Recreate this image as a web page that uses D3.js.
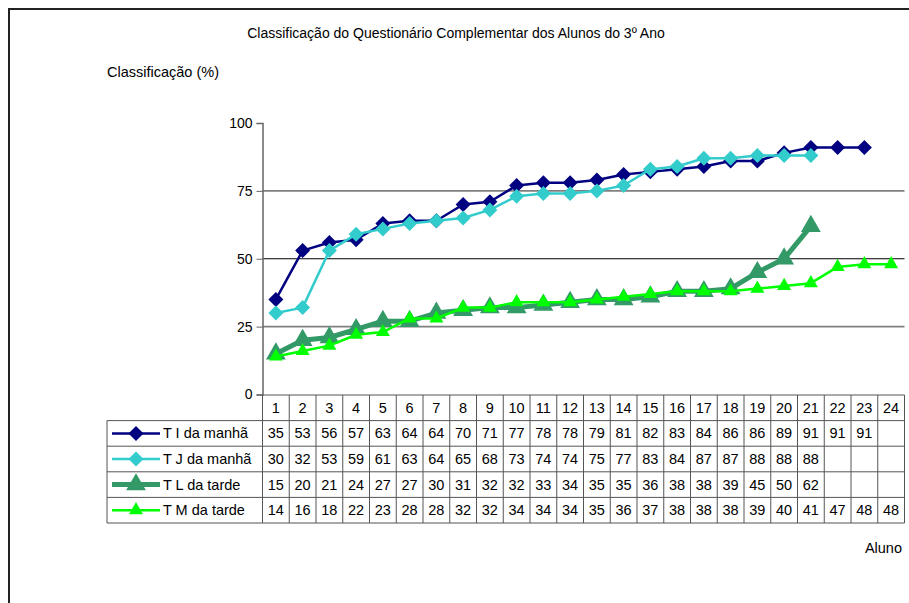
<!DOCTYPE html>
<html>
<head>
<meta charset="utf-8">
<script src="https://cdn.jsdelivr.net/npm/d3@7/dist/d3.min.js"></script>
<style>
  html, body { margin: 0; padding: 0; background: #fff; }
  svg { display: block; font-family: "Liberation Sans", Arial, sans-serif; }
</style>
</head>
<body>
<svg id="chart" width="909" height="603"></svg>
<script>
// Alunos (1..24) e classificações por turma
const alunos = d3.range(1, 25);
const tiManha = [35, 53, 56, 57, 63, 64, 64, 70, 71, 77, 78, 78, 79, 81, 82, 83, 84, 86, 86, 89, 91, 91, 91];
const tjManha = [30, 32, 53, 59, 61, 63, 64, 65, 68, 73, 74, 74, 75, 77, 83, 84, 87, 87, 88, 88, 88];
const tlTarde = [15, 20, 21, 24, 27, 27, 30, 31, 32, 32, 33, 34, 35, 35, 36, 38, 38, 39, 45, 50, 62];
const tmTarde = [14, 16, 18, 22, 23, 28, 28, 32, 32, 34, 34, 34, 35, 36, 37, 38, 38, 38, 39, 40, 41, 47, 48, 48];
const yTicks = [0, 25, 50, 75, 100];

const series = [
  { name: "T I da manhã", values: tiManha, color: "#000080", width: 2.5, marker: "diamond", size: 150 },
  { name: "T J da manhã", values: tjManha, color: "#33CCCC", width: 2.5, marker: "diamond", size: 150 },
  { name: "T L da tarde", values: tlTarde, color: "#339966", width: 5, marker: "triangle", size: 170 },
  { name: "T M da tarde", values: tmTarde, color: "#00FF00", width: 2.5, marker: "triangle", size: 85 }
];

const svg = d3.select("#chart");

// Moldura exterior
svg.append("rect")
  .attr("x", 9).attr("y", 9).attr("width", 1000).attr("height", 700)
  .attr("fill", "none").attr("stroke", "#222").attr("stroke-width", 2);

const plotLeft = 262.5, plotRight = 904.5;
const x = d3.scaleBand().domain(alunos).range([plotLeft, plotRight]);
const y = d3.scaleLinear().domain([0, 100]).range([394.5, 123]);

// Linhas de grelha
const gridStyle = { 25: ["#808080", 1.6], 50: ["#000", 1], 75: ["#808080", 1.6] };
svg.append("g").selectAll("line")
  .data(yTicks.filter(t => gridStyle[t]))
  .join("line")
  .attr("x1", plotLeft).attr("x2", plotRight)
  .attr("y1", d => y(d)).attr("y2", d => y(d))
  .attr("stroke", d => gridStyle[d][0])
  .attr("stroke-width", d => gridStyle[d][1]);

// Eixo Y
const yAxis = svg.append("g")
  .attr("transform", `translate(${plotLeft},0)`)
  .call(d3.axisLeft(y).tickValues(yTicks).tickSize(6).tickPadding(4));
yAxis.select(".domain").attr("stroke", "#666").attr("stroke-width", 1.5);
yAxis.selectAll(".tick line").attr("stroke", "#666");
yAxis.selectAll("text").attr("font-size", 14).attr("fill", "#000")
  .attr("font-family", "Liberation Sans, Arial, sans-serif");

// Títulos
svg.append("text").attr("x", 456).attr("y", 38).attr("text-anchor", "middle")
  .attr("font-size", 14).text("Classificação do Questionário Complementar dos Alunos do 3º Ano");
svg.append("text").attr("x", 107).attr("y", 77).attr("font-size", 14.5)
  .text("Classificação (%)");
svg.append("text").attr("x", 902).attr("y", 553).attr("text-anchor", "end")
  .attr("font-size", 14.5).text("Aluno");

// Séries
const cx = i => x(alunos[i]) + x.bandwidth() / 2;
const symbolOf = s => s.marker === "diamond" ? d3.symbolSquare : d3.symbolTriangle;

series.forEach(s => {
  const g = svg.append("g");
  g.append("path")
    .datum(s.values)
    .attr("fill", "none")
    .attr("stroke", s.color)
    .attr("stroke-width", s.width)
    .attr("stroke-linejoin", "round")
    .attr("d", d3.line().x((d, i) => cx(i)).y(d => y(d)));
  g.selectAll("path.m")
    .data(s.values)
    .join("path")
    .attr("class", "m")
    .attr("fill", s.color)
    .attr("transform", (d, i) => `translate(${cx(i)},${y(d)})` + (s.marker === "diamond" ? " rotate(45)" : ""))
    .attr("d", d3.symbol().type(symbolOf(s)).size(s.marker === "diamond" ? s.size * 0.75 : s.size));
});

// Tabela de dados
const headerTop = 395, rowH = 25.6, legendLeft = 107;
const gridColor = "#555";
const table = svg.append("g");
const nRows = series.length;
const tableBottom = headerTop + rowH * (nRows + 1);

// Cabeçalho
table.selectAll("text.h")
  .data(alunos)
  .join("text")
  .attr("class", "h")
  .attr("x", d => x(d) + x.bandwidth() / 2)
  .attr("y", headerTop + rowH / 2 + 5)
  .attr("text-anchor", "middle")
  .attr("font-size", 14.5)
  .text(d => d);

// Linhas horizontais
table.append("line").attr("x1", plotLeft).attr("x2", plotRight)
  .attr("y1", headerTop).attr("y2", headerTop).attr("stroke", gridColor);
d3.range(1, nRows + 2).forEach(r => {
  table.append("line").attr("x1", legendLeft).attr("x2", plotRight)
    .attr("y1", headerTop + r * rowH).attr("y2", headerTop + r * rowH)
    .attr("stroke", gridColor).attr("stroke-width", 1);
});
// Linhas verticais
alunos.forEach(a => {
  table.append("line").attr("x1", x(a)).attr("x2", x(a))
    .attr("y1", headerTop).attr("y2", tableBottom).attr("stroke", gridColor);
});
table.append("line").attr("x1", plotRight).attr("x2", plotRight)
  .attr("y1", headerTop).attr("y2", tableBottom).attr("stroke", gridColor);
table.append("line").attr("x1", legendLeft).attr("x2", legendLeft)
  .attr("y1", headerTop + rowH).attr("y2", tableBottom).attr("stroke", gridColor);

// Linhas da tabela: legenda + valores
series.forEach((s, r) => {
  const cy = headerTop + rowH * (r + 1) + rowH / 2;
  table.append("line").attr("x1", 112).attr("x2", 160)
    .attr("y1", cy).attr("y2", cy)
    .attr("stroke", s.color).attr("stroke-width", s.width);
  table.append("path")
    .attr("fill", s.color)
    .attr("transform", `translate(136,${cy})` + (s.marker === "diamond" ? " rotate(45)" : ""))
    .attr("d", d3.symbol().type(symbolOf(s)).size(s.marker === "diamond" ? s.size * 0.75 : s.size));
  table.append("text").attr("x", 163).attr("y", cy + 5).attr("font-size", 14.5).text(s.name);
  table.selectAll(null)
    .data(s.values)
    .join("text")
    .attr("x", (d, i) => cx(i))
    .attr("y", cy + 5)
    .attr("text-anchor", "middle")
    .attr("font-size", 14.5)
    .text(d => d);
});
</script>
</body>
</html>
